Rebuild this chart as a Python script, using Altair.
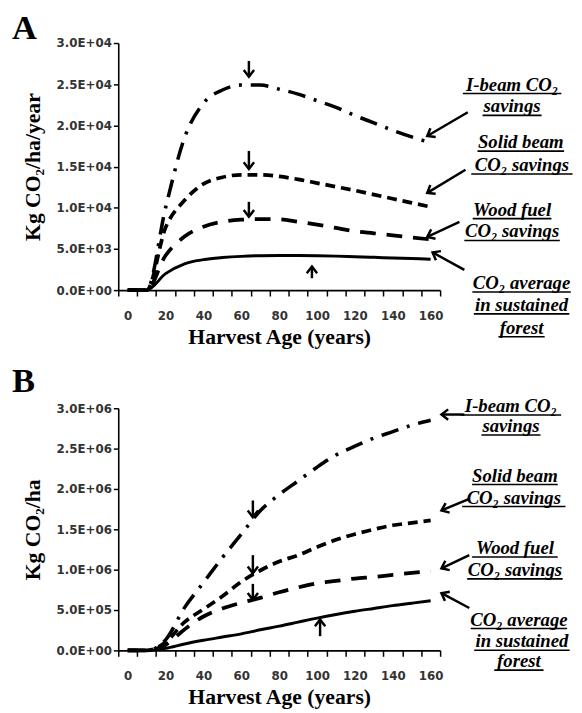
import math
import altair as alt
import pandas as pd

# ---------------- data ----------------
ages = [0, 10, 20, 30, 40, 50, 60, 70, 80, 90, 100, 110, 120, 130, 140, 150, 160]
series_names = ["I-beam", "Solid beam", "Wood fuel", "Average"]

# Panel A: Kg CO2/ha/year
a_ibeam = [0, 0, 10000, 18500, 22700, 24300, 24900, 24900, 24400, 23800, 23000, 22200, 21200, 20300, 19400, 18600, 17900]
a_solid = [0, 0, 7600, 10900, 12900, 13700, 14000, 14000, 13800, 13450, 13000, 12550, 12100, 11600, 11100, 10600, 10100]
a_wood = [0, 0, 4200, 6500, 7700, 8300, 8550, 8620, 8600, 8300, 7950, 7550, 7150, 6900, 6650, 6400, 6150]
a_avg = [0, 0, 2000, 3200, 3700, 3950, 4100, 4180, 4200, 4200, 4180, 4130, 4050, 3980, 3900, 3830, 3750]

# Panel B: Kg CO2/ha
b_ibeam = [0, 0, 130000, 530000, 840000, 1150000, 1440000, 1730000, 1930000, 2100000, 2270000, 2420000, 2530000, 2630000, 2710000, 2790000, 2850000]
b_solid = [0, 0, 100000, 350000, 510000, 670000, 850000, 990000, 1100000, 1180000, 1280000, 1370000, 1440000, 1500000, 1550000, 1580000, 1610000]
b_wood = [0, 0, 70000, 260000, 420000, 520000, 590000, 650000, 720000, 780000, 830000, 860000, 890000, 910000, 935000, 960000, 980000]
b_avg = [0, 0, 25000, 80000, 125000, 165000, 205000, 255000, 300000, 350000, 400000, 445000, 485000, 520000, 555000, 585000, 615000]

a_yticks = [0, 5000, 10000, 15000, 20000, 25000, 30000]
a_yticklabels = ["0.0E+00", "5.0E+03", "1.0E+04", "1.5E+04", "2.0E+04", "2.5E+04", "3.0E+04"]
b_yticks = [0, 500000, 1000000, 1500000, 2000000, 2500000, 3000000]
b_yticklabels = ["0.0E+00", "5.0E+05", "1.0E+06", "1.5E+06", "2.0E+06", "2.5E+06", "3.0E+06"]

note_texts = ["I-beam  CO\u2082", "savings", "Solid beam", "CO\u2082  savings", "Wood fuel",
              "CO\u2082 savings", "CO\u2082 average", "in sustained", "forest"]
# annotation anchors in data units (years, values)
a_note_x = [203, 203, 207.6, 208.2, 203, 203, 208, 208, 208]
a_note_y = [24940, 22290, 17950, 15180, 9760, 7110, 840, -1810, -4580]
b_note_x = [202.4, 202.4, 204.5, 203.9, 204.5, 204.5, 206.6, 208.2, 206.6]
b_note_y = [3025000, 2779000, 2164000, 1893000, 1266000, 996000, 381000, 111000, -135000]

# arrows: tail -> tip, in data units
a_arrow_tail_x = [179.6, 178.4, 175.2, 177.8, 64, 64, 64, 97.3]
a_arrow_tail_y = [21600, 14610, 8280, 2450, 27830, 16900, 10720, 1446]
a_arrow_tip_x = [158.2, 158.2, 158.2, 161.0, 64, 64, 64, 97.3]
a_arrow_tip_y = [18710, 11810, 6470, 4580, 25900, 14700, 8915, 2855]
b_arrow_tail_x = [177.8, 180.4, 180.4, 180.4, 66.1, 66.1, 66.1, 101.6]
b_arrow_tail_y = [2922000, 1877000, 1180000, 525000, 1857000, 1180000, 824000, 176000]
b_arrow_tip_x = [165.7, 165.7, 165.7, 165.7, 66.1, 66.1, 66.1, 101.6]
b_arrow_tip_y = [2922000, 1734000, 1017000, 709000, 1651000, 955000, 627000, 381000]

# ---------------- styles / layout ----------------
W = 327
H_A = 251
H_B = 246
X_DOMAIN = [-5, 165]
PX_PER_YR = W / (X_DOMAIN[1] - X_DOMAIN[0])
line_styles = {
    "I-beam": dict(strokeDash=[18, 9, 3, 9], strokeWidth=3.6),
    "Solid beam": dict(strokeDash=[10, 6], strokeWidth=3.8),
    "Wood fuel": dict(strokeDash=[16, 11], strokeWidth=3.8),
    "Average": dict(strokeWidth=3),
}
underline_px_a = [100, 60, 88, 103, 80, 97, 100, 97, 47]
underline_px_b = [102, 60, 87, 105, 87, 97, 98, 97, 50]
CHEVRON = "M -1 1.3 L 0 0 L 1 1.3"


def panel(values, ymax, yticks, ylabels, ytitle, H, nx, ny, ulw, tx, ty, hx, hy, letter, toff):
    px_per_val = H / ymax
    xscale = alt.Scale(domain=X_DOMAIN, nice=False, zero=False)
    yscale = alt.Scale(domain=[0, ymax], nice=False, zero=False)
    step = yticks[1] - yticks[0]
    label_arr = "[" + ",".join("'%s'" % s for s in ylabels) + "]"
    xaxis = alt.Axis(
        values=list(range(X_DOMAIN[0], X_DOMAIN[1] + 1, 10)),
        labelExpr="(datum.value + 5) % 20 == 0 ? '' + (datum.value + 5) : ''",
        labelOffset=PX_PER_YR * 5, labelOverlap=False, labelFlush=False,
        tickSize=6, labelPadding=15, titlePadding=5, title="Harvest Age (years)",
    )
    yaxis = alt.Axis(
        values=yticks, labelExpr=label_arr + "[round(datum.value / %d)]" % step,
        tickSize=5, labelPadding=2, titlePadding=12, title=ytitle,
        labelOverlap=False, labelFlush=False,
    )
    xe = alt.X("x:Q", scale=xscale, axis=xaxis)
    ye = alt.Y("y:Q", scale=yscale, axis=yaxis)

    layers = []
    for name, vals in zip(series_names, values):
        df = pd.DataFrame({"x": ages, "y": vals})
        layers.append(
            alt.Chart(df).mark_line(color="black", interpolate="monotone", **line_styles[name]).encode(x=xe, y=ye)
        )
    notes = pd.DataFrame({"x": nx, "y": ny, "t": note_texts})
    layers.append(
        alt.Chart(notes).mark_text(
            font="Liberation Serif", fontSize=19, fontStyle="italic", fontWeight="bold",
            align="center", baseline="middle", color="black",
        ).encode(x=xe, y=ye, text="t:N")
    )
    ul = pd.DataFrame({
        "x": [a - w / 2 / PX_PER_YR for a, w in zip(nx, ulw)],
        "x2": [a + w / 2 / PX_PER_YR for a, w in zip(nx, ulw)],
        "y": [b - 9 / px_per_val for b in ny],
    })
    layers.append(
        alt.Chart(ul).mark_rule(color="black", strokeWidth=1.6).encode(x=xe, x2="x2:Q", y=ye)
    )
    angles = []
    for a, b, c, d in zip(tx, ty, hx, hy):
        dx = (c - a) * PX_PER_YR
        dy = -(d - b) * px_per_val
        angles.append(math.degrees(math.atan2(dx, -dy)) % 360)
    arr = pd.DataFrame({"x": tx, "y": ty, "x2": hx, "y2": hy, "ang": angles})
    layers.append(
        alt.Chart(arr).mark_rule(color="black", strokeWidth=2.5).encode(x=xe, y=ye, x2="x2:Q", y2="y2:Q")
    )
    heads = pd.DataFrame({"x": hx, "y": hy, "ang": angles})
    layers.append(
        alt.Chart(heads).mark_point(
            shape=CHEVRON, filled=False, color="black", strokeWidth=2.5, size=110, opacity=1, strokeJoin="miter"
        ).encode(x=xe, y=ye, angle=alt.Angle("ang:Q", scale=None))
    )
    return alt.layer(*layers).properties(
        width=W, height=H,
        title=alt.TitleParams(
            text=letter, anchor="start", frame="group", dx=-108, offset=toff,
            font="Liberation Serif", fontSize=35, fontWeight="bold", color="black", baseline="alphabetic",
        ),
    )


panel_a = panel([a_ibeam, a_solid, a_wood, a_avg], 30000, a_yticks, a_yticklabels,
                "Kg CO\u2082/ha/year", H_A, a_note_x, a_note_y, underline_px_a,
                a_arrow_tail_x, a_arrow_tail_y, a_arrow_tip_x, a_arrow_tip_y, "A", -37)
panel_b = panel([b_ibeam, b_solid, b_wood, b_avg], 3000000, b_yticks, b_yticklabels,
                "Kg CO\u2082/ha", H_B, b_note_x, b_note_y, underline_px_b,
                b_arrow_tail_x, b_arrow_tail_y, b_arrow_tip_x, b_arrow_tip_y, "B", -30)

chart = alt.vconcat(panel_a, panel_b, spacing=17).properties(
    padding={"left": 4, "top": -2, "right": 0, "bottom": 0},
    background="white",
).configure_view(stroke=None).configure_axis(
    grid=False, domainColor="black", tickColor="black", domainWidth=1.6, tickWidth=1.5,
    labelFont="DejaVu Sans", labelFontSize=12, labelFontWeight="bold", labelColor="#333333",
    titleFont="Liberation Serif", titleFontSize=22, titleFontWeight="bold", titleColor="black",
)

chart.save("out.html", embed_options={"renderer": "svg", "actions": False})
